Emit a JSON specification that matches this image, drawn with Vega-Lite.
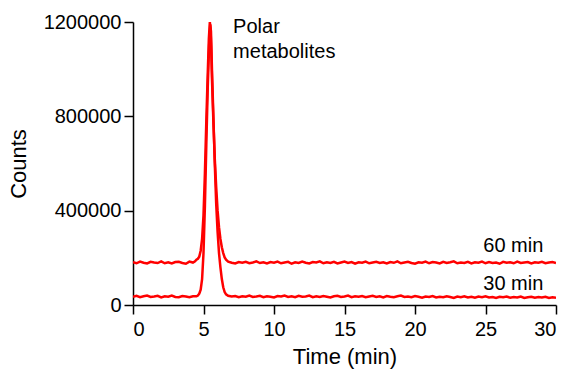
{
  "$schema": "https://vega.github.io/schema/vega-lite/v6.json",
  "width": 423,
  "height": 283,
  "autosize": "none",
  "padding": {"left": 133, "top": 22, "right": 14, "bottom": 66},
  "background": "white",
  "config": {
    "view": {"stroke": null},
    "font": "Liberation Sans",
    "axis": {
      "grid": false,
      "domainColor": "black",
      "domainWidth": 1.5,
      "tickColor": "black",
      "tickWidth": 1.5,
      "tickSize": 9,
      "labelFont": "Liberation Sans",
      "labelFontSize": 20,
      "labelColor": "black",
      "titleFont": "Liberation Sans",
      "titleFontSize": 22,
      "titleFontWeight": "normal",
      "titleColor": "black"
    }
  },
  "layer": [
    {
      "data": {"values": [
        {"t":0,"c":182000},{"t":0.25,"c":177000},{"t":0.5,"c":184000},{"t":0.75,"c":179000},{"t":1,"c":176000},{"t":1.25,"c":183000},{"t":1.5,"c":180000},{"t":1.75,"c":178000},{"t":2,"c":185000},{"t":2.25,"c":177000},{"t":2.5,"c":181000},{"t":2.75,"c":176000},{"t":3,"c":182000},{"t":3.25,"c":183000},{"t":3.5,"c":178000},{"t":3.75,"c":175000},{"t":4,"c":184000},{"t":4.25,"c":180000},
        {"t":4.4,"c":185000},{"t":4.5,"c":192000},{"t":4.6,"c":196000},{"t":4.7,"c":205000},{"t":4.8,"c":230000},{"t":4.9,"c":280000},{"t":5.0,"c":380000},{"t":5.1,"c":560000},{"t":5.2,"c":780000},{"t":5.3,"c":980000},{"t":5.38,"c":1130000},{"t":5.45,"c":1200000},{"t":5.5,"c":1170000},{"t":5.55,"c":1080000},{"t":5.6,"c":960000},{"t":5.7,"c":780000},{"t":5.8,"c":620000},{"t":5.9,"c":500000},{"t":6.0,"c":400000},{"t":6.1,"c":330000},{"t":6.2,"c":280000},{"t":6.3,"c":245000},{"t":6.4,"c":220000},{"t":6.5,"c":202000},{"t":6.6,"c":192000},{"t":6.75,"c":184000},{"t":7.0,"c":179000},
        {"t":7.25,"c":176000},{"t":7.5,"c":182000},{"t":7.75,"c":179000},{"t":8,"c":183000},{"t":8.25,"c":177000},{"t":8.5,"c":180000},{"t":8.75,"c":185000},{"t":9,"c":178000},{"t":9.25,"c":181000},{"t":9.5,"c":176000},{"t":9.75,"c":182000},{"t":10,"c":179000},{"t":10.25,"c":184000},{"t":10.5,"c":177000},{"t":10.75,"c":180000},{"t":11,"c":183000},{"t":11.25,"c":175000},{"t":11.5,"c":181000},{"t":11.75,"c":178000},{"t":12,"c":184000},{"t":12.25,"c":179000},{"t":12.5,"c":176000},{"t":12.75,"c":182000},{"t":13,"c":180000},{"t":13.25,"c":185000},{"t":13.5,"c":177000},{"t":13.75,"c":181000},{"t":14,"c":178000},{"t":14.25,"c":183000},{"t":14.5,"c":176000},{"t":14.75,"c":180000},{"t":15,"c":184000},{"t":15.25,"c":178000},{"t":15.5,"c":182000},{"t":15.75,"c":175000},{"t":16,"c":181000},{"t":16.25,"c":179000},{"t":16.5,"c":184000},{"t":16.75,"c":177000},{"t":17,"c":180000},{"t":17.25,"c":183000},{"t":17.5,"c":178000},{"t":17.75,"c":181000},{"t":18,"c":176000},{"t":18.25,"c":182000},{"t":18.5,"c":179000},{"t":18.75,"c":185000},{"t":19,"c":177000},{"t":19.25,"c":180000},{"t":19.5,"c":183000},{"t":19.75,"c":178000},{"t":20,"c":175000},{"t":20.25,"c":181000},{"t":20.5,"c":179000},{"t":20.75,"c":184000},{"t":21,"c":177000},{"t":21.25,"c":182000},{"t":21.5,"c":180000},{"t":21.75,"c":176000},{"t":22,"c":183000},{"t":22.25,"c":178000},{"t":22.5,"c":181000},{"t":22.75,"c":185000},{"t":23,"c":177000},{"t":23.25,"c":180000},{"t":23.5,"c":178000},{"t":23.75,"c":183000},{"t":24,"c":176000},{"t":24.25,"c":181000},{"t":24.5,"c":179000},{"t":24.75,"c":184000},{"t":25,"c":177000},{"t":25.25,"c":182000},{"t":25.5,"c":178000},{"t":25.75,"c":180000},{"t":26,"c":175000},{"t":26.25,"c":183000},{"t":26.5,"c":179000},{"t":26.75,"c":181000},{"t":27,"c":177000},{"t":27.25,"c":184000},{"t":27.5,"c":178000},{"t":27.75,"c":180000},{"t":28,"c":182000},{"t":28.25,"c":176000},{"t":28.5,"c":181000},{"t":28.75,"c":179000},{"t":29,"c":183000},{"t":29.25,"c":177000},{"t":29.5,"c":180000},{"t":29.75,"c":182000},{"t":30,"c":178000}
      ]},
      "mark": {"type": "line", "color": "#ff0000", "strokeWidth": 2.5, "clip": true},
      "encoding": {
        "x": {"field": "t", "type": "quantitative", "scale": {"domain": [0, 30], "nice": false},
              "axis": {"values": [0,5,10,15,20,25,30], "title": "Time (min)", "labelPadding": 5, "titlePadding": 7}},
        "y": {"field": "c", "type": "quantitative", "scale": {"domain": [0, 1200000], "nice": false},
              "axis": {"values": [0,400000,800000,1200000], "format": "d", "title": "Counts", "labelPadding": 3, "titlePadding": 13}}
      }
    },
    {
      "data": {"values": [
        {"t":0,"c":35000},{"t":0.25,"c":39000},{"t":0.5,"c":33000},{"t":0.75,"c":37000},{"t":1,"c":40000},{"t":1.25,"c":34000},{"t":1.5,"c":36000},{"t":1.75,"c":39000},{"t":2,"c":32000},{"t":2.25,"c":37000},{"t":2.5,"c":35000},{"t":2.75,"c":40000},{"t":3,"c":34000},{"t":3.25,"c":33000},{"t":3.5,"c":38000},{"t":3.75,"c":36000},{"t":4,"c":33000},{"t":4.25,"c":37000},{"t":4.5,"c":37000},
        {"t":4.6,"c":40000},{"t":4.7,"c":48000},{"t":4.8,"c":65000},{"t":4.9,"c":110000},{"t":5.0,"c":220000},{"t":5.1,"c":420000},{"t":5.2,"c":680000},{"t":5.3,"c":920000},{"t":5.4,"c":1100000},{"t":5.48,"c":1190000},{"t":5.53,"c":1160000},{"t":5.6,"c":1000000},{"t":5.7,"c":800000},{"t":5.8,"c":600000},{"t":5.9,"c":430000},{"t":6.0,"c":310000},{"t":6.1,"c":220000},{"t":6.2,"c":160000},{"t":6.3,"c":110000},{"t":6.4,"c":75000},{"t":6.5,"c":55000},{"t":6.6,"c":45000},{"t":6.75,"c":39000},{"t":7.0,"c":36000},
        {"t":7.25,"c":38000},{"t":7.5,"c":33000},{"t":7.75,"c":37000},{"t":8,"c":35000},{"t":8.25,"c":40000},{"t":8.5,"c":34000},{"t":8.75,"c":36000},{"t":9,"c":39000},{"t":9.25,"c":33000},{"t":9.5,"c":37000},{"t":9.75,"c":35000},{"t":10,"c":32000},{"t":10.25,"c":38000},{"t":10.5,"c":36000},{"t":10.75,"c":40000},{"t":11,"c":34000},{"t":11.25,"c":37000},{"t":11.5,"c":33000},{"t":11.75,"c":39000},{"t":12,"c":35000},{"t":12.25,"c":36000},{"t":12.5,"c":40000},{"t":12.75,"c":33000},{"t":13,"c":37000},{"t":13.25,"c":34000},{"t":13.5,"c":38000},{"t":13.75,"c":35000},{"t":14,"c":32000},{"t":14.25,"c":37000},{"t":14.5,"c":39000},{"t":14.75,"c":34000},{"t":15,"c":36000},{"t":15.25,"c":40000},{"t":15.5,"c":33000},{"t":15.75,"c":37000},{"t":16,"c":35000},{"t":16.25,"c":38000},{"t":16.5,"c":33000},{"t":16.75,"c":36000},{"t":17,"c":39000},{"t":17.25,"c":34000},{"t":17.5,"c":37000},{"t":17.75,"c":32000},{"t":18,"c":38000},{"t":18.25,"c":35000},{"t":18.5,"c":33000},{"t":18.75,"c":37000},{"t":19,"c":40000},{"t":19.25,"c":34000},{"t":19.5,"c":36000},{"t":19.75,"c":33000},{"t":20,"c":38000},{"t":20.25,"c":35000},{"t":20.5,"c":31000},{"t":20.75,"c":36000},{"t":21,"c":34000},{"t":21.25,"c":38000},{"t":21.5,"c":32000},{"t":21.75,"c":35000},{"t":22,"c":33000},{"t":22.25,"c":37000},{"t":22.5,"c":34000},{"t":22.75,"c":30000},{"t":23,"c":36000},{"t":23.25,"c":33000},{"t":23.5,"c":37000},{"t":23.75,"c":32000},{"t":24,"c":35000},{"t":24.25,"c":31000},{"t":24.5,"c":36000},{"t":24.75,"c":33000},{"t":25,"c":37000},{"t":25.25,"c":32000},{"t":25.5,"c":34000},{"t":25.75,"c":30000},{"t":26,"c":35000},{"t":26.25,"c":33000},{"t":26.5,"c":36000},{"t":26.75,"c":31000},{"t":27,"c":34000},{"t":27.25,"c":32000},{"t":27.5,"c":36000},{"t":27.75,"c":30000},{"t":28,"c":33000},{"t":28.25,"c":35000},{"t":28.5,"c":31000},{"t":28.75,"c":34000},{"t":29,"c":32000},{"t":29.25,"c":35000},{"t":29.5,"c":30000},{"t":29.75,"c":33000},{"t":30,"c":31000}
      ]},
      "mark": {"type": "line", "color": "#ff0000", "strokeWidth": 2.5, "clip": true},
      "encoding": {
        "x": {"field": "t", "type": "quantitative"},
        "y": {"field": "c", "type": "quantitative"}
      }
    },
    {
      "data": {"values": [
        {"t": 7.1, "c": 1153000, "label": "Polar"},
        {"t": 7.1, "c": 1047000, "label": "metabolites"}
      ]},
      "mark": {"type": "text", "align": "left", "baseline": "alphabetic", "fontSize": 20, "font": "Liberation Sans", "color": "black"},
      "encoding": {
        "x": {"field": "t", "type": "quantitative"},
        "y": {"field": "c", "type": "quantitative"},
        "text": {"field": "label"}
      }
    },
    {
      "data": {"values": [
        {"t": 29.1, "c": 226000, "label": "60 min"},
        {"t": 29.1, "c": 64000, "label": "30 min"}
      ]},
      "mark": {"type": "text", "align": "right", "baseline": "alphabetic", "fontSize": 20, "font": "Liberation Sans", "color": "black"},
      "encoding": {
        "x": {"field": "t", "type": "quantitative"},
        "y": {"field": "c", "type": "quantitative"},
        "text": {"field": "label"}
      }
    }
  ]
}
